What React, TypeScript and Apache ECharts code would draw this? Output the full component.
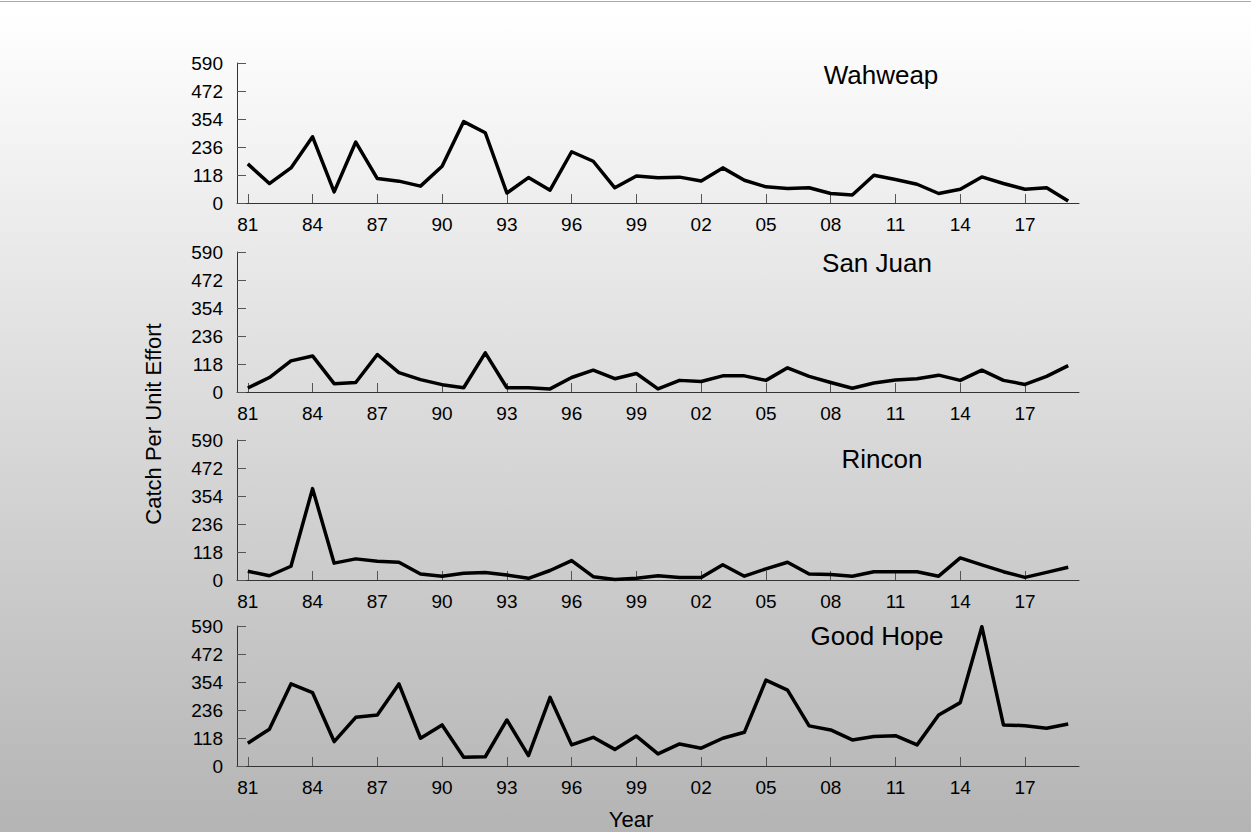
import React, { useEffect, useRef } from "react";
import * as echarts from "echarts";

const years = [
  "81","82","83","84","85","86","87","88","89","90",
  "91","92","93","94","95","96","97","98","99","00",
  "01","02","03","04","05","06","07","08","09","10",
  "11","12","13","14","15","16","17","18","19",
];

const yTicks = [0, 118, 236, 354, 472, 590];

const wahweap = [
  165, 82, 148, 279, 47, 257, 103, 92, 71, 155,
  343, 296, 42, 107, 54, 216, 176, 64, 114, 106,
  109, 93, 148, 96, 68, 61, 64, 40, 34, 117,
  99, 79, 40, 58, 110, 82, 58, 64, 8,
];

const sanJuan = [
  17, 61, 131, 152, 35, 40, 158, 82, 52, 31,
  18, 165, 18, 18, 13, 61, 92, 56, 78, 13,
  49, 44, 68, 68, 49, 102, 66, 40, 16, 38,
  51, 56, 71, 49, 92, 49, 32, 66, 111,
];

const rincon = [
  37, 18, 58, 385, 71, 89, 79, 75, 25, 16,
  28, 32, 21, 7, 40, 82, 14, 2, 7, 18,
  11, 11, 64, 16, 47, 75, 25, 23, 16, 35,
  35, 35, 16, 93, 64, 35, 11, 32, 54,
];

const goodHope = [
  96, 155, 346, 309, 103, 205, 215, 346, 117, 173,
  37, 39, 194, 44, 289, 89, 121, 70, 126, 51,
  93, 75, 117, 142, 362, 320, 169, 152, 110, 124,
  128, 89, 215, 267, 587, 173, 170, 159, 177,
];

const panelNames = ["Wahweap", "San Juan", "Rincon", "Good Hope"];
const panelSeries = [wahweap, sanJuan, rincon, goodHope];

// layout
const gridTops = [63, 252, 440, 626];
const titlePos = [
  [881, 75],
  [877, 263],
  [882, 459],
  [877, 636],
];

export default function App() {
  const ref = useRef<HTMLDivElement>(null);
  useEffect(() => {
    if (!ref.current) return;
    const chart = echarts.init(ref.current, null, { renderer: "svg" });
    const font = "'Liberation Sans', Arial, Helvetica, sans-serif";
    const grids = gridTops.map((t) => ({
      left: 237,
      width: 842,
      top: t,
      height: 140,
    }));
    const xAxes = gridTops.map((_, i) => ({
      type: "category",
      gridIndex: i,
      data: years,
      boundaryGap: true,
      axisLine: { show: true, lineStyle: { color: "#333", width: 1 } },
      axisTick: {
        show: true,
        inside: true,
        length: 9,
        interval: 2,
        alignWithLabel: true,
        lineStyle: { color: "#555", width: 1 },
      },
      axisLabel: {
        interval: 2,
        margin: 12,
        fontSize: 19,
        fontFamily: font,
        color: "#000",
      },
      splitLine: { show: false },
    }));
    const yAxes = gridTops.map((_, i) => ({
      type: "value",
      gridIndex: i,
      min: yTicks[0],
      max: yTicks[yTicks.length - 1],
      interval: yTicks[1] - yTicks[0],
      axisLine: { show: true, lineStyle: { color: "#333", width: 1 } },
      axisTick: {
        show: true,
        inside: true,
        length: 9,
        lineStyle: { color: "#555", width: 1 },
      },
      axisLabel: {
        margin: 14,
        fontSize: 19,
        fontFamily: font,
        color: "#000",
      },
      splitLine: { show: false },
    }));
    const series = panelSeries.map((d, i) => ({
      type: "line",
      name: panelNames[i],
      xAxisIndex: i,
      yAxisIndex: i,
      data: d,
      symbol: "none",
      lineStyle: { color: "#000", width: 3.5, join: "round" },
    }));
    const graphics: any[] = [
      {
        type: "line",
        shape: { x1: 0, y1: 1.5, x2: 1251, y2: 1.5 },
        style: { stroke: "#aaaaaa", lineWidth: 1 },
      },
      ...panelNames.map((n, i) => ({
        type: "text",
        x: titlePos[i][0],
        y: titlePos[i][1],
        style: {
          text: n,
          fontSize: 26,
          fontFamily: font,
          fill: "#000",
          textAlign: "center",
          textVerticalAlign: "middle",
        },
      })),
      {
        type: "text",
        x: 153,
        y: 424,
        rotation: Math.PI / 2,
        style: {
          text: "Catch Per Unit Effort",
          fontSize: 22,
          fontFamily: font,
          fill: "#000",
          textAlign: "center",
          textVerticalAlign: "middle",
        },
      },
      {
        type: "text",
        x: 631,
        y: 819,
        style: {
          text: "Year",
          fontSize: 22,
          fontFamily: font,
          fill: "#000",
          textAlign: "center",
          textVerticalAlign: "middle",
        },
      },
    ];
    chart.setOption({
      animation: false,
      backgroundColor: new echarts.graphic.LinearGradient(0, 0, 0, 1, [
        { offset: 0, color: "#ffffff" },
        { offset: 0.015, color: "#ffffff" },
        { offset: 1, color: "#b4b4b4" },
      ]),
      grid: grids,
      xAxis: xAxes,
      yAxis: yAxes,
      series,
      graphic: graphics,
    } as any);
    return () => chart.dispose();
  }, []);
  return (
    <div
      ref={ref}
      style={{ position: "fixed", left: 0, top: 0, width: 1251, height: 832 }}
    />
  );
}
